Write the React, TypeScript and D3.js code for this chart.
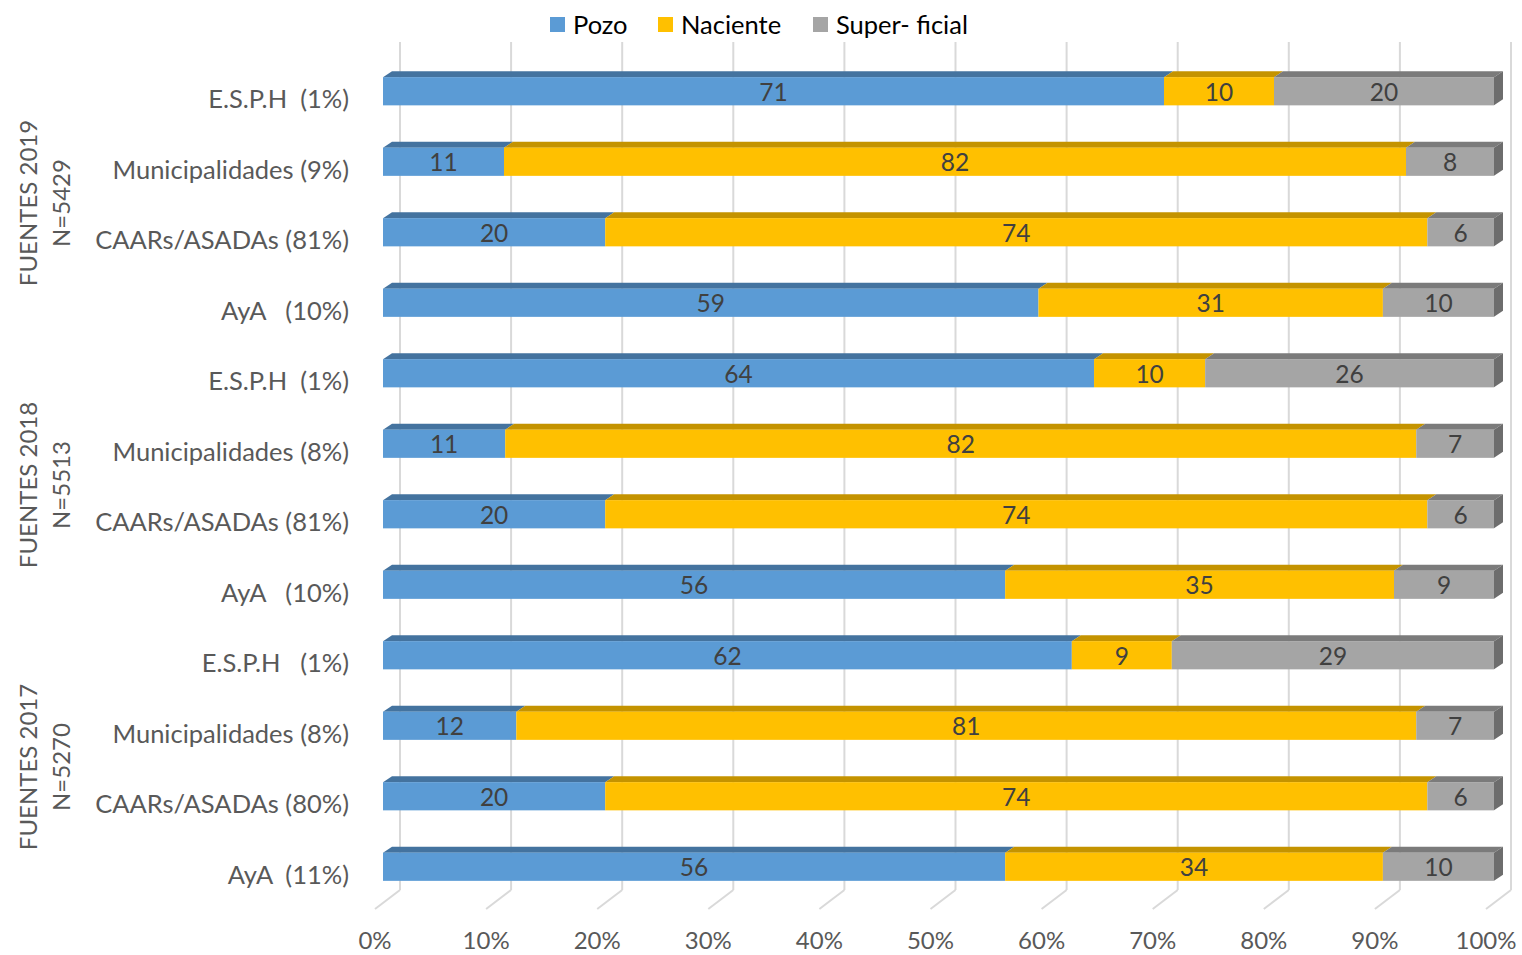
import * as d3 from "d3";

const categories = [
  "E.S.P.H  (1%)", "Municipalidades (9%)", "CAARs/ASADAs (81%)", "AyA   (10%)",
  "E.S.P.H  (1%)", "Municipalidades (8%)", "CAARs/ASADAs (81%)", "AyA   (10%)",
  "E.S.P.H   (1%)", "Municipalidades (8%)", "CAARs/ASADAs (80%)", "AyA  (11%)",
];
const pozo = [71, 11, 20, 59, 64, 11, 20, 56, 62, 12, 20, 56];
const naciente = [10, 82, 74, 31, 10, 82, 74, 35, 9, 81, 74, 34];
const superficial = [20, 8, 6, 10, 26, 7, 6, 9, 29, 7, 6, 10];
const seriesNames = ["Pozo", "Naciente", "Super- ficial"];
const groupLabels = [["FUENTES 2019", "N=5429"], ["FUENTES 2018", "N=5513"], ["FUENTES 2017", "N=5270"]];
const ticks = [0, 0.1, 0.2, 0.3, 0.4, 0.5, 0.6, 0.7, 0.8, 0.9, 1];

const front = ["#5b9bd5", "#ffc000", "#a5a5a5"];
const top = ["#44739f", "#c49300", "#7b7b7b"];
const FONT = "Lato, 'Open Sans', sans-serif";

export default function App() {
  const W = 1522, H = 955;
  const rows = categories.map((c, i) => ({ i, pozo: pozo[i], naciente: naciente[i], superficial: superficial[i] }));
  const keys = ["pozo", "naciente", "superficial"];
  const stack = d3.stack<any>().keys(keys).offset(d3.stackOffsetExpand)(rows);

  const y = d3.scaleBand<number>().domain(d3.range(categories.length)).range([56, 902]).paddingInner(0.6).paddingOuter(0.3);
  const xFloor = d3.scaleLinear().domain([0, 1]).range([375, 1486]);
  const x = (v: number) => xFloor(v) + 8; // bar front plane
  const back = { dx: 25, dy: -19 };
  const depth = { dx: 9, dy: -6 };
  const gridTop = 42, gridBottom = 890;
  const bh = y.bandwidth();

  return (
    <svg width={W} height={H} style={{ position: "absolute", left: 0, top: 0, background: "#fff" }} fontFamily={FONT}>
      {/* gridlines: back wall + floor */}
      {ticks.map(t => (
        <g key={t} stroke="#d9d9d9" strokeWidth={2} fill="none">
          <line x1={xFloor(t) + back.dx} x2={xFloor(t) + back.dx} y1={gridTop} y2={gridBottom} />
          <line x1={xFloor(t) + back.dx} y1={gridBottom} x2={xFloor(t)} y2={gridBottom - back.dy} />
        </g>
      ))}
      {ticks.map(t => (
        <text key={"t" + t} x={xFloor(t)} y={949} textAnchor="middle" fontSize={24} fill="#595959">
          {d3.format(".0%")(t)}
        </text>
      ))}

      {/* bars */}
      {stack.map((s, si) => (
        <g key={s.key}>
          {s.map((d, i) => {
            const y0 = y(i)!;
            const x0 = x(d[0]), x1 = x(d[1]);
            const topPts = [[x0, y0], [x1, y0], [x1 + depth.dx, y0 + depth.dy], [x0 + depth.dx, y0 + depth.dy]];
            const val = [pozo, naciente, superficial][si][i];
            return (
              <g key={i}>
                <polygon points={topPts.map(p => p.join(",")).join(" ")} fill={top[si]} />
                <rect x={x0} y={y0} width={x1 - x0} height={bh} fill={front[si]} />
                {si === 2 && (
                  <polygon
                    points={[[x1, y0], [x1 + depth.dx, y0 + depth.dy], [x1 + depth.dx, y0 + depth.dy + bh], [x1, y0 + bh]].map(p => p.join(",")).join(" ")}
                    fill="#6d6d6d"
                  />
                )}
                <text x={(x0 + x1) / 2} y={y0 + bh / 2} textAnchor="middle" dominantBaseline="central" fontSize={24.5} fill="#404040">
                  {val}
                </text>
              </g>
            );
          })}
        </g>
      ))}

      {/* category labels */}
      {categories.map((c, i) => (
        <text key={i} x={349} y={y(i)! + bh / 2 + 7} textAnchor="end" dominantBaseline="central" fontSize={25.5} fill="#595959" style={{ whiteSpace: "pre" }}>
          {c}
        </text>
      ))}

      {/* group labels */}
      {groupLabels.map((g, gi) => {
        const cy = (y(gi * 4)! + y(gi * 4 + 3)! + bh) / 2 + 6;
        return (
          <g key={gi}>
            <text transform={`translate(27,${cy}) rotate(-90)`} textAnchor="middle" dominantBaseline="central" fontSize={24} fill="#595959">{g[0]}</text>
            <text transform={`translate(60,${cy}) rotate(-90)`} textAnchor="middle" dominantBaseline="central" fontSize={24} fill="#595959">{g[1]}</text>
          </g>
        );
      })}

      {/* legend */}
      {seriesNames.map((n, i) => {
        const lx = [550, 658, 813][i];
        return (
          <g key={n}>
            <rect x={lx} y={17} width={15} height={15} fill={front[i]} />
            <text x={lx + 23} y={24} dominantBaseline="central" fontSize={25.5} fill="#000">{n}</text>
          </g>
        );
      })}
    </svg>
  );
}
